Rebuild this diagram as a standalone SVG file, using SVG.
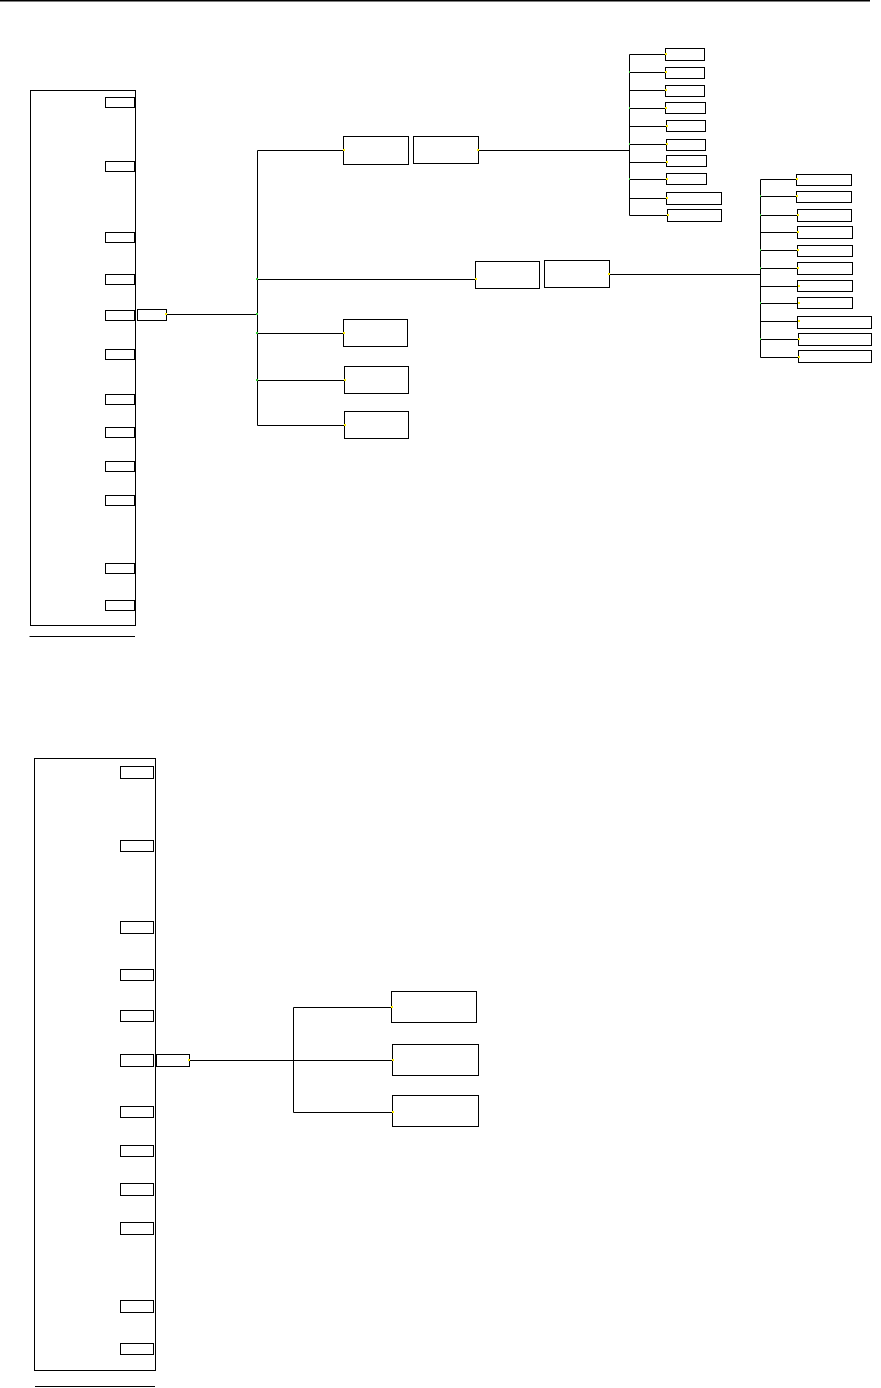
<svg xmlns="http://www.w3.org/2000/svg" width="881" height="1388" viewBox="0 0 881 1388">
<style>
.n{fill:#fff;stroke:#000;stroke-width:1}
.c{fill:none;stroke:#000;stroke-width:1}
.y{fill:#ffee00}
.g{fill:#33cc33}
</style>
<rect x="0" y="0" width="881" height="1388" fill="#fff"/>
<rect x="0" y="0" width="870" height="1.5" fill="#000"/>

<!-- top diagram -->
<g id="top-container">
<rect class="n" x="30.5" y="90.5" width="105" height="535"/>
<line class="c" x1="29.5" y1="636.5" x2="135" y2="636.5"/>
</g>
<g id="top-slots">
<rect class="n" x="105.5" y="97.5" width="29" height="10"/>
<rect class="n" x="105.5" y="161.5" width="29" height="10"/>
<rect class="n" x="105.5" y="232.5" width="29" height="10"/>
<rect class="n" x="105.5" y="274.5" width="29" height="10"/>
<rect class="n" x="105.5" y="310.5" width="29" height="10"/>
<rect class="n" x="105.5" y="349.5" width="29" height="10"/>
<rect class="n" x="105.5" y="394.5" width="29" height="10"/>
<rect class="n" x="105.5" y="427.5" width="29" height="10"/>
<rect class="n" x="105.5" y="461.5" width="29" height="10"/>
<rect class="n" x="105.5" y="495.5" width="29" height="10"/>
<rect class="n" x="105.5" y="563.5" width="29" height="10"/>
<rect class="n" x="105.5" y="600.5" width="29" height="10"/>
</g>
<g id="top-port"><rect class="n" x="137.5" y="309.5" width="29" height="11"/></g>
<g id="node-A"><rect class="n" x="343.5" y="136.5" width="65" height="28"/></g>
<g id="node-B"><rect class="n" x="413.5" y="136.5" width="65" height="27"/></g>
<g id="node-C"><rect class="n" x="475.5" y="261.5" width="64" height="27"/></g>
<g id="node-D"><rect class="n" x="544.5" y="260.5" width="65" height="27"/></g>
<g id="node-E"><rect class="n" x="343.5" y="319.5" width="64" height="27"/></g>
<g id="node-F"><rect class="n" x="344.5" y="366.5" width="64" height="27"/></g>
<g id="node-G"><rect class="n" x="344.5" y="411.5" width="64" height="27"/></g>
<g id="cluster1">
<rect class="n" x="665.5" y="48.5" width="39" height="12"/>
<rect class="n" x="665.5" y="67.5" width="39" height="11"/>
<rect class="n" x="665.5" y="85.5" width="39" height="11"/>
<rect class="n" x="665.5" y="102.5" width="40" height="11"/>
<rect class="n" x="666.5" y="120.5" width="39" height="11"/>
<rect class="n" x="666.5" y="139.5" width="39" height="11"/>
<rect class="n" x="666.5" y="155.5" width="40" height="11"/>
<rect class="n" x="666.5" y="173.5" width="40" height="11"/>
<rect class="n" x="666.5" y="192.5" width="55" height="12"/>
<rect class="n" x="667.5" y="209.5" width="54" height="12"/>
</g>
<g id="cluster2">
<rect class="n" x="796.5" y="174.5" width="55" height="11"/>
<rect class="n" x="796.5" y="191.5" width="55" height="11"/>
<rect class="n" x="797.5" y="209.5" width="54" height="12"/>
<rect class="n" x="797.5" y="226.5" width="55" height="12"/>
<rect class="n" x="797.5" y="245.5" width="55" height="11"/>
<rect class="n" x="797.5" y="262.5" width="55" height="12"/>
<rect class="n" x="797.5" y="280.5" width="55" height="11"/>
<rect class="n" x="797.5" y="297.5" width="55" height="11"/>
<rect class="n" x="797.5" y="316.5" width="74" height="12"/>
<rect class="n" x="798.5" y="333.5" width="73" height="12"/>
<rect class="n" x="798.5" y="350.5" width="73" height="12"/>
</g>

<!-- bottom diagram -->
<g id="bottom-container">
<rect class="n" x="34.5" y="758.5" width="121" height="612"/>
<line class="c" x1="35" y1="1386.5" x2="155" y2="1386.5"/>
</g>
<g id="bottom-slots">
<rect class="n" x="120.5" y="766.5" width="33" height="12"/>
<rect class="n" x="120.5" y="840.5" width="33" height="11"/>
<rect class="n" x="120.5" y="921.5" width="33" height="12"/>
<rect class="n" x="120.5" y="969.5" width="33" height="11"/>
<rect class="n" x="120.5" y="1010.5" width="33" height="11"/>
<rect class="n" x="120.5" y="1054.5" width="33" height="12"/>
<rect class="n" x="120.5" y="1106.5" width="33" height="11"/>
<rect class="n" x="120.5" y="1145.5" width="33" height="11"/>
<rect class="n" x="120.5" y="1183.5" width="33" height="12"/>
<rect class="n" x="120.5" y="1222.5" width="33" height="12"/>
<rect class="n" x="120.5" y="1300.5" width="33" height="12"/>
<rect class="n" x="120.5" y="1343.5" width="33" height="11"/>
</g>
<g id="bottom-port"><rect class="n" x="156.5" y="1054.5" width="33" height="12"/></g>
<g id="node-R1"><rect class="n" x="391.5" y="991.5" width="85" height="31"/></g>
<g id="node-R2"><rect class="n" x="392.5" y="1044.5" width="86" height="31"/></g>
<g id="node-R3"><rect class="n" x="392.5" y="1095.5" width="86" height="31"/></g>

<g id="connectors">
<path class="c" d="M166.5 314.5H257.5M257.5 150.5V425.5M257.5 150.5H343.5M257.5 279.5H475.5M257.5 333.5H343.5M257.5 380.5H344.5M257.5 425.5H344.5"/>
<path class="c" d="M478.5 150.5H629.5M629.5 54.5V215.5M629.5 54.5H665.5M629.5 72.5H665.5M629.5 90.5H665.5M629.5 108.5H665.5M629.5 126.5H666.5M629.5 144.5H666.5M629.5 162.5H666.5M629.5 179.5H666.5M629.5 198.5H666.5M629.5 215.5H667.5"/>
<path class="c" d="M609.5 274.5H760.5M760.5 179.5V357.5M760.5 179.5H796.5M760.5 196.5H796.5M760.5 215.5H797.5M760.5 232.5H797.5M760.5 250.5H797.5M760.5 268.5H797.5M760.5 286.5H797.5M760.5 303.5H797.5M760.5 321.5H797.5M760.5 339.5H798.5M760.5 357.5H798.5"/>
<path class="c" d="M189.5 1060.5H392.5M293.5 1007.5V1112.5M293.5 1007.5H391.5M293.5 1112.5H392.5"/>
<g id="port-marks">
<rect class="y" x="165" y="313" width="2" height="2"/>
<rect class="y" x="343" y="149" width="2" height="2"/>
<rect class="y" x="477" y="149" width="2" height="2"/>
<rect class="y" x="475" y="278" width="2" height="2"/>
<rect class="y" x="608" y="273" width="2" height="2"/>
<rect class="y" x="343" y="332" width="2" height="2"/>
<rect class="y" x="344" y="379" width="2" height="2"/>
<rect class="y" x="344" y="424" width="2" height="2"/>
<rect class="g" x="256" y="278" width="2" height="2"/>
<rect class="g" x="256" y="313" width="2" height="2"/>
<rect class="g" x="256" y="332" width="2" height="2"/>
<rect class="g" x="256" y="379" width="2" height="2"/>
<rect class="y" x="665" y="53" width="2" height="2"/>
<rect class="y" x="665" y="71" width="2" height="2"/>
<rect class="y" x="665" y="89" width="2" height="2"/>
<rect class="y" x="665" y="107" width="2" height="2"/>
<rect class="y" x="666" y="125" width="2" height="2"/>
<rect class="y" x="666" y="143" width="2" height="2"/>
<rect class="y" x="666" y="161" width="2" height="2"/>
<rect class="y" x="666" y="178" width="2" height="2"/>
<rect class="y" x="666" y="197" width="2" height="2"/>
<rect class="y" x="667" y="214" width="2" height="2"/>
<rect class="g" x="629" y="71" width="1" height="2"/>
<rect class="g" x="629" y="107" width="1" height="2"/>
<rect class="g" x="629" y="143" width="1" height="2"/>
<rect class="g" x="629" y="178" width="1" height="2"/>
<rect class="y" x="796" y="178" width="2" height="2"/>
<rect class="y" x="796" y="195" width="2" height="2"/>
<rect class="y" x="797" y="214" width="2" height="2"/>
<rect class="y" x="797" y="231" width="2" height="2"/>
<rect class="y" x="797" y="249" width="2" height="2"/>
<rect class="y" x="797" y="267" width="2" height="2"/>
<rect class="y" x="798" y="285" width="2" height="2"/>
<rect class="y" x="798" y="302" width="2" height="2"/>
<rect class="y" x="798" y="320" width="2" height="2"/>
<rect class="y" x="798" y="338" width="2" height="2"/>
<rect class="y" x="798" y="356" width="2" height="2"/>
<rect class="g" x="760" y="195" width="1" height="2"/>
<rect class="g" x="760" y="214" width="1" height="2"/>
<rect class="g" x="760" y="249" width="1" height="2"/>
<rect class="g" x="760" y="267" width="1" height="2"/>
<rect class="g" x="760" y="302" width="1" height="2"/>
<rect class="g" x="760" y="338" width="1" height="2"/>
<rect class="y" x="188" y="1059" width="2" height="2"/>
<rect class="y" x="391" y="1006" width="2" height="2"/>
<rect class="y" x="392" y="1059" width="2" height="2"/>
<rect class="y" x="392" y="1111" width="2" height="2"/>
</g>
</g>
</svg>
